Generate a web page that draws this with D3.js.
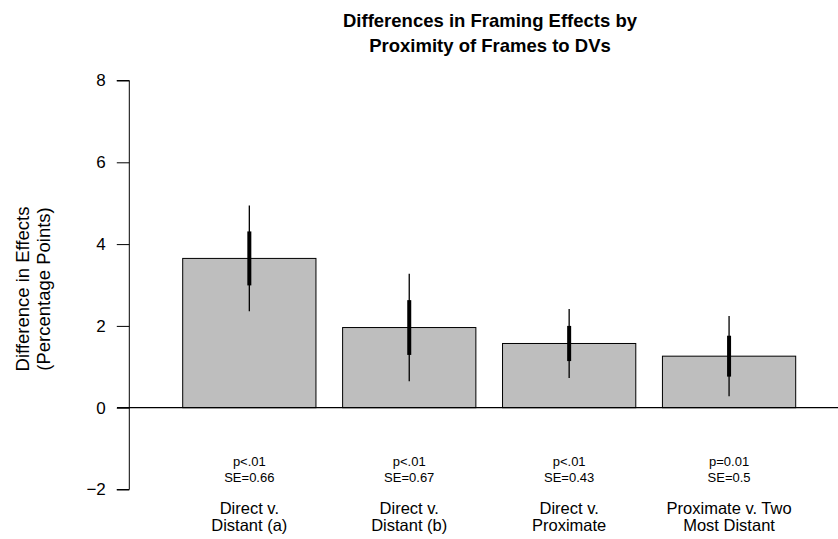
<!DOCTYPE html>
<html>
<head>
<meta charset="utf-8">
<script src="https://cdn.jsdelivr.net/npm/d3@7"></script>
<style>
  html, body { margin: 0; padding: 0; background: #fff; }
  svg { display: block; font-family: "Liberation Sans", Arial, Helvetica, sans-serif; }
</style>
</head>
<body>
<svg id="chart" width="838" height="539"></svg>
<script>
// Comparison labels (two lines each)
const categories = [
  ["Direct v.", "Distant (a)"],
  ["Direct v.", "Distant (b)"],
  ["Direct v.", "Proximate"],
  ["Proximate v. Two", "Most Distant"]
];
// Difference in framing effects (percentage points)
const diffs = [3.65, 1.96, 1.57, 1.26];
// Standard errors of the differences
const ses = [0.66, 0.67, 0.43, 0.5];
// Significance labels
const pLabels = ["p<.01", "p<.01", "p<.01", "p=0.01"];
// Y axis ticks
const yTicks = [-2, 0, 2, 4, 6, 8];

const svg = d3.select("#chart");
const W = 838;

const y = d3.scaleLinear().domain([-2, 8]).range([489.5, 80.5]);
const x = d3.scaleBand()
  .domain(d3.range(categories.length))
  .range([182.7, 795.7])
  .paddingInner(1 / 6)
  .paddingOuter(0);

// Title
const title = svg.append("text")
  .attr("text-anchor", "middle")
  .attr("font-weight", "bold")
  .attr("font-size", 18.5)
  .attr("fill", "#000");
title.append("tspan").attr("x", 490).attr("y", 27).text("Differences in Framing Effects by");
title.append("tspan").attr("x", 490).attr("y", 52).text("Proximity of Frames to DVs");

// Y axis
const yAxis = d3.axisLeft(y).tickValues(yTicks).tickSize(12.5).tickPadding(11)
  .tickFormat(d => d < 0 ? "\u2212" + Math.abs(d) : String(d));
const gy = svg.append("g").attr("transform", "translate(129.3,0)").call(yAxis);
gy.select(".domain").attr("d", `M-12.5,${y(8)}H0V${y(-2)}H-12.5`).attr("stroke", "#000").attr("stroke-width", 1);
gy.selectAll(".tick line").attr("stroke", "#000");
gy.selectAll(".tick text").attr("font-size", 17).attr("fill", "#000")
  .attr("font-family", "Liberation Sans, Arial, sans-serif");

// Y axis label
const ylab = svg.append("text")
  .attr("text-anchor", "middle")
  .attr("font-size", 18.5)
  .attr("fill", "#000")
  .attr("transform", "translate(0,289) rotate(-90)");
ylab.append("tspan").attr("x", 0).attr("y", 28.5).text("Difference in Effects");
ylab.append("tspan").attr("x", 0).attr("y", 50).text("(Percentage Points)");

// Bars
svg.append("g").selectAll("rect")
  .data(diffs)
  .join("rect")
  .attr("x", (d, i) => x(i))
  .attr("width", x.bandwidth())
  .attr("y", d => y(Math.max(0, d)))
  .attr("height", d => Math.abs(y(d) - y(0)))
  .attr("fill", "#bebebe")
  .attr("stroke", "#000")
  .attr("stroke-width", 1);

// Zero reference line
svg.append("line")
  .attr("x1", 117).attr("x2", W)
  .attr("y1", y(0)).attr("y2", y(0))
  .attr("stroke", "#000").attr("stroke-width", 1.2);

// Confidence intervals: thin = 95%, thick = +/- 1 SE
const ci = svg.append("g");
diffs.forEach((d, i) => {
  const cx = x(i) + x.bandwidth() / 2;
  ci.append("line")
    .attr("x1", cx).attr("x2", cx)
    .attr("y1", y(d + 1.96 * ses[i])).attr("y2", y(d - 1.96 * ses[i]))
    .attr("stroke", "#000").attr("stroke-width", 1.3);
  ci.append("line")
    .attr("x1", cx).attr("x2", cx)
    .attr("y1", y(d + ses[i])).attr("y2", y(d - ses[i]))
    .attr("stroke", "#000").attr("stroke-width", 4);
});

// Category and statistic labels
const labs = svg.append("g").attr("text-anchor", "middle").attr("fill", "#000");
categories.forEach((c, i) => {
  const cx = x(i) + x.bandwidth() / 2;
  labs.append("text").attr("x", cx).attr("y", 465.5).attr("font-size", 13).text(pLabels[i]);
  labs.append("text").attr("x", cx).attr("y", 482).attr("font-size", 13).text("SE=" + ses[i]);
  labs.append("text").attr("x", cx).attr("y", 513.5).attr("font-size", 16.5).text(c[0]);
  labs.append("text").attr("x", cx).attr("y", 531).attr("font-size", 16.5).text(c[1]);
});
</script>
</body>
</html>
